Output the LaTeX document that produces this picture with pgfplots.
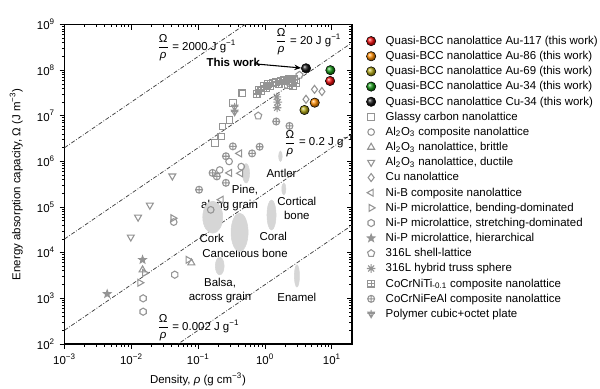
\documentclass[border=0pt]{standalone}
\usepackage{fontspec}
\setmainfont{Liberation Sans}
\usepackage{pgfplots}
\pgfplotsset{compat=1.18}
\usetikzlibrary{plotmarks,arrows.meta}

\definecolor{mk}{RGB}{148,148,148}
\definecolor{ell}{RGB}{214,214,214}
\definecolor{cred}{RGB}{235,10,10}
\definecolor{corange}{RGB}{255,140,0}
\definecolor{colive}{RGB}{175,165,20}
\definecolor{cgreen}{RGB}{20,150,20}
\definecolor{cblack}{RGB}{20,20,20}

\newcommand\f{\fontsize{8.6}{10.3}\selectfont}

\pgfdeclareplotmark{hexagon}{%
 \pgfpathmoveto{\pgfpointpolar{90}{\pgfplotmarksize}}%
 \pgfpathlineto{\pgfpointpolar{150}{\pgfplotmarksize}}%
 \pgfpathlineto{\pgfpointpolar{210}{\pgfplotmarksize}}%
 \pgfpathlineto{\pgfpointpolar{270}{\pgfplotmarksize}}%
 \pgfpathlineto{\pgfpointpolar{330}{\pgfplotmarksize}}%
 \pgfpathlineto{\pgfpointpolar{30}{\pgfplotmarksize}}%
 \pgfpathclose\pgfusepathqstroke}
\pgfdeclareplotmark{fstar}{%
 \pgfpathmoveto{\pgfpointpolar{90}{1.15\pgfplotmarksize}}%
 \pgfpathlineto{\pgfpointpolar{126}{0.48\pgfplotmarksize}}%
 \pgfpathlineto{\pgfpointpolar{162}{1.15\pgfplotmarksize}}%
 \pgfpathlineto{\pgfpointpolar{198}{0.48\pgfplotmarksize}}%
 \pgfpathlineto{\pgfpointpolar{234}{1.15\pgfplotmarksize}}%
 \pgfpathlineto{\pgfpointpolar{270}{0.48\pgfplotmarksize}}%
 \pgfpathlineto{\pgfpointpolar{306}{1.15\pgfplotmarksize}}%
 \pgfpathlineto{\pgfpointpolar{342}{0.48\pgfplotmarksize}}%
 \pgfpathlineto{\pgfpointpolar{18}{1.15\pgfplotmarksize}}%
 \pgfpathlineto{\pgfpointpolar{54}{0.48\pgfplotmarksize}}%
 \pgfpathclose\pgfusepathqfillstroke}
\pgfdeclareplotmark{sqplus}{%
 \pgfpathrectanglecorners{\pgfpoint{-\pgfplotmarksize}{-\pgfplotmarksize}}{\pgfpoint{\pgfplotmarksize}{\pgfplotmarksize}}%
 \pgfpathmoveto{\pgfpoint{-\pgfplotmarksize}{0pt}}\pgfpathlineto{\pgfpoint{\pgfplotmarksize}{0pt}}%
 \pgfpathmoveto{\pgfpoint{0pt}{-\pgfplotmarksize}}\pgfpathlineto{\pgfpoint{0pt}{\pgfplotmarksize}}%
 \pgfusepathqstroke}
\pgfdeclareplotmark{asteight}{%
 \pgfpathmoveto{\pgfpointpolar{0}{\pgfplotmarksize}}\pgfpathlineto{\pgfpointpolar{180}{\pgfplotmarksize}}%
 \pgfpathmoveto{\pgfpointpolar{45}{\pgfplotmarksize}}\pgfpathlineto{\pgfpointpolar{225}{\pgfplotmarksize}}%
 \pgfpathmoveto{\pgfpointpolar{90}{\pgfplotmarksize}}\pgfpathlineto{\pgfpointpolar{270}{\pgfplotmarksize}}%
 \pgfpathmoveto{\pgfpointpolar{135}{\pgfplotmarksize}}\pgfpathlineto{\pgfpointpolar{315}{\pgfplotmarksize}}%
 \pgfusepathqstroke}
\pgfdeclareplotmark{trident}{%
 \pgfpathmoveto{\pgfpointpolar{270}{\pgfplotmarksize}}%
 \pgfpathlineto{\pgfpointpolar{30}{\pgfplotmarksize}}%
 \pgfpathlineto{\pgfpointpolar{150}{\pgfplotmarksize}}%
 \pgfpathclose
 \pgfpathmoveto{\pgfpoint{0pt}{1.1\pgfplotmarksize}}\pgfpathlineto{\pgfpoint{0pt}{-\pgfplotmarksize}}%
 \pgfpathmoveto{\pgfpoint{-\pgfplotmarksize}{0.15\pgfplotmarksize}}\pgfpathlineto{\pgfpoint{\pgfplotmarksize}{0.15\pgfplotmarksize}}%
 \pgfusepathqstroke}

\pgfplotsset{
  mkleg/.style={legend image code/.code={\draw[##1] plot coordinates {(0pt,0pt)};}},
  gp/.style={only marks, color=mk, line width=0.8pt, mark size=2.5pt, mkleg},
  bp/.style={only marks, mark=ball, ball color=#1, mark size=3.5pt, mkleg},
  el/.style n args={2}{forget plot, only marks, mark=*, color=ell, mark size=#1, mark options={draw=none, fill=ell, yscale=#2}},
  dl/.style={forget plot, color=black!75, line width=0.55pt, dash pattern=on 3pt off 1.3pt on 0.6pt off 1.3pt},
}

\begin{document}
\begin{tikzpicture}
\useasboundingbox (-48.4pt,-33.75pt) rectangle (401.6pt,258pt);
% inward ticks on top/right
\begin{axis}[
  scale only axis, width=215.6pt, height=239.6pt,
  xmode=log, ymode=log, xmin=1e-3, xmax=20, ymin=1e2, ymax=1e9,
  xtick={1e-3,1e-2,1e-1,1,10}, ytick={1e2,1e3,1e4,1e5,1e6,1e7,1e8,1e9},
  xticklabels={}, yticklabels={},
  xtick pos=right, ytick pos=right, tick align=inside,
  major tick length=3.75pt, minor tick length=2pt,
  tick style={black, line width=0.6pt},
  axis line style={black, line width=0.9pt},
]
\addplot[draw=none, forget plot] coordinates {(1,1e3)};
\end{axis}
\begin{axis}[
  name=main,
  scale only axis, width=215.6pt, height=239.6pt,
  xmode=log, ymode=log, xmin=1e-3, xmax=20, ymin=1e2, ymax=1e9,
  xtick={1e-3,1e-2,1e-1,1,10},
  xticklabels={10\textsuperscript{−3},10\textsuperscript{−2},10\textsuperscript{−1},10\textsuperscript{0},10\textsuperscript{1}},
  ytick={1e2,1e3,1e4,1e5,1e6,1e7,1e8,1e9},
  yticklabels={10\textsuperscript{2},10\textsuperscript{3},10\textsuperscript{4},10\textsuperscript{5},10\textsuperscript{6},10\textsuperscript{7},10\textsuperscript{8},10\textsuperscript{9}},
  xtick pos=left, ytick pos=left, tick align=outside,
  major tick length=3.75pt, minor tick length=2pt,
  tick style={black, line width=0.6pt},
  axis line style={black, line width=0.9pt},
  tick label style={font=\f},
  label style={font=\f},
  xlabel={Density, \textit{ρ} (g cm\textsuperscript{−3})},
  ylabel={Energy absorption capacity, Ω (J m\textsuperscript{−3})},
  xlabel style={at={(axis description cs:0.464,-0.1095)}, anchor=center},
  ylabel style={at={(axis description cs:-0.168,0.5)}, anchor=center},
  legend cell align=left,
  legend style={at={(rel axis cs:1.0346,0.981)}, anchor=north west, draw=none, fill=none,
    font=\f, row sep=0pt, column sep=7.25pt,
    nodes={inner sep=0pt, text height=8.2pt, text depth=3.17pt}},
]
% ratio lines
\addplot[dl] coordinates {(1e-3,2e6) (20,4e10)};
\addplot[dl] coordinates {(1e-3,2e4) (20,4e8)};
\addplot[dl] coordinates {(1e-3,2e2) (20,4e6)};
\addplot[dl] coordinates {(1e-3,2) (20,4e4)};
% natural materials (ellipses)
\addplot[el={1.35pt}{2.9}] coordinates {(1.70,1.3e6)};
\addplot[el={2.6pt}{2.8}] coordinates {(0.52,5.5e5)};
\addplot[el={1.5pt}{3.0}] coordinates {(1.91,2.5e5)};
\addplot[el={3.4pt}{3.3}] coordinates {(1.25,6.7e4)};
\addplot[el={7.5pt}{1.6}] coordinates {(0.165,6.0e4)};
\addplot[el={6.4pt}{2.25}] coordinates {(0.416,2.8e4)};
\addplot[el={3.3pt}{2.0}] coordinates {(0.21,5.1e3)};
\addplot[el={1.9pt}{4.4}] coordinates {(3.0,3.1e3)};
% this work
\addplot[bp=cred] coordinates {(9.4,5.8e7)};
\addlegendentry{Quasi-BCC nanolattice Au-117 (this work)}
\addplot[bp=corange] coordinates {(5.54,1.94e7)};
\addlegendentry{Quasi-BCC nanolattice Au-86 (this work)}
\addplot[bp=colive] coordinates {(3.89,1.34e7)};
\addlegendentry{Quasi-BCC nanolattice Au-69 (this work)}
\addplot[bp=cgreen] coordinates {(9.5,1.0e8)};
\addlegendentry{Quasi-BCC nanolattice Au-34 (this work)}
\addplot[bp=cblack] coordinates {(4.1,1.1e8)};
\addlegendentry{Quasi-BCC nanolattice Cu-34 (this work)}
% literature
\addplot[gp, mark=square] coordinates {(0.457,3.11e7)(0.330,1.88e7)(0.295,8.1e6)(0.230,5.8e6)(0.222,3.5e6)(0.18,2.5e6)};
\addlegendentry{Glassy carbon nanolattice}
\addplot[gp, mark=o] coordinates {(2.32,5.2e7)(0.29,1.0e6)(0.44,7.7e5)(0.21,6.5e5)(0.154,8.7e4)(0.043,4.7e4)};
\addlegendentry{Al\textsubscript{2}O\textsubscript{3} composite nanolattice}
\addplot[gp, mark=triangle, mark size=3pt] coordinates {(0.0147,4.2e3)(0.079,6.0e3)};
\addlegendentry{Al\textsubscript{2}O\textsubscript{3} nanolattice, brittle}
\addplot[gp, mark=triangle, mark size=3pt, mark options={rotate=180}] coordinates {(0.0189,1.1e5)(0.0126,6.0e4)(0.0098,2.2e4)(0.041,4.8e5)};
\addlegendentry{Al\textsubscript{2}O\textsubscript{3} nanolattice, ductile}
\addplot[gp, mark=diamond, mark size=3pt] coordinates {(5.5,3.8e7)(7.1,3.4e7)(4.1,2.3e7)};
\addlegendentry{Cu nanolattice}
\addplot[gp, mark=triangle, mark size=3pt, mark options={rotate=90}] coordinates {(0.416,1.5e6)(0.295,5.6e5)(0.43,5.5e5)(0.22,1.45e5)};
\addlegendentry{Ni-B composite nanolattice}
\addplot[gp, mark=triangle, mark size=3pt, mark options={rotate=-90}] coordinates {(0.042,5.7e4)(0.0158,3.6e3)(0.0134,2.2e3)(0.0705,7.0e3)};
\addlegendentry{Ni-P microlattice, bending-dominated}
\addplot[gp, mark=hexagon, mark size=2.7pt] coordinates {(0.0446,3.3e3)(0.015,1.0e3)(0.015,5.1e2)};
\addlegendentry{Ni-P microlattice, stretching-dominated}
\addplot[gp, mark=fstar, mark size=2.5pt, fill=mk] coordinates {(0.0147,7.0e3)(0.00435,1.25e3)};
\addlegendentry{Ni-P microlattice, hierarchical}
\addplot[gp, mark=pentagon, mark size=2.8pt] coordinates {(3.27,7.8e7)(0.79,1.0e7)};
\addlegendentry{316L shell-lattice}
\addplot[gp, mark=asteight, mark size=3.2pt] coordinates {(1.50,2.6e7)(1.55,2.0e7)(1.52,1.5e7)};
\addlegendentry{316L hybrid truss sphere}
\addplot[gp, mark=sqplus, mark size=2.5pt] coordinates {(0.75,3.0e7)(0.80,3.7e7)(0.88,3.5e7)(0.95,4.5e7)(1.05,4.0e7)(1.1,5.0e7)(1.2,4.5e7)(1.3,5.3e7)(1.45,5.5e7)(1.6,5.0e7)(1.75,5.8e7)(1.9,6.2e7)(2.1,6.0e7)(2.3,6.5e7)(2.5,5.8e7)(2.7,6.3e7)(2.9,5.2e7)(2.6,4.5e7)(2.2,4.8e7)};
\addlegendentry{CoCrNiTi\textsubscript{-0.1} composite nanolattice}
\addplot[gp, mark=oplus, mark size=2.6pt] coordinates {(1.47,7.5e6)(2.32,6.0e6)(0.33,2.14e6)(0.83,2.1e6)(0.64,1.5e6)(0.26,1.3e6)(0.164,5.6e5)(0.19,4.7e5)(0.26,3.4e5)(0.103,2.4e5)};
\addlegendentry{CoCrNiFeAl composite nanolattice}
\addplot[gp, mark=trident, mark size=2.8pt] coordinates {(0.351,1.56e7)(0.351,1.21e7)};
\addlegendentry{Polymer cubic+octet plate}
% annotations
\node[font=\f\bfseries] at (rel axis cs:0.587,0.880) {This work};
\draw[-{Stealth[length=5pt,width=4pt]}, line width=0.8pt] (rel axis cs:0.66,0.877) -- (rel axis cs:0.823,0.864);
\node[font=\f, anchor=west, inner sep=0pt] at (rel axis cs:0.322,0.927) {$\displaystyle\frac{\mbox{Ω}}{\mbox{\itshape ρ}}$ = 2000 J g\textsuperscript{−1}};
\node[font=\f, anchor=west, inner sep=0pt] at (rel axis cs:0.732,0.945) {$\displaystyle\frac{\mbox{Ω}}{\mbox{\itshape ρ}}$ = 20 J g\textsuperscript{−1}};
\node[font=\f, anchor=west, inner sep=0pt] at (rel axis cs:0.763,0.628) {$\displaystyle\frac{\mbox{Ω}}{\mbox{\itshape ρ}}$ = 0.2 J g\textsuperscript{−1}};
\node[font=\f, anchor=west, inner sep=0pt] at (rel axis cs:0.322,0.050) {$\displaystyle\frac{\mbox{Ω}}{\mbox{\itshape ρ}}$ = 0.002 J g\textsuperscript{−1}};
\node[font=\f] at (rel axis cs:0.755,0.535) {Antler};
\node[font=\f] at (rel axis cs:0.628,0.482) {Pine,};
\node[font=\f] at (rel axis cs:0.574,0.432) {along grain};
\node[font=\f, align=center] at (rel axis cs:0.808,0.425) {Cortical\\bone};
\node[font=\f] at (rel axis cs:0.512,0.331) {Cork};
\node[font=\f] at (rel axis cs:0.726,0.336) {Coral};
\node[font=\f] at (rel axis cs:0.628,0.284) {Cancellous bone};
\node[font=\f, align=center] at (rel axis cs:0.541,0.167) {Balsa,\\across grain};
\node[font=\f] at (rel axis cs:0.808,0.146) {Enamel};
\end{axis}
\end{tikzpicture}
\end{document}
